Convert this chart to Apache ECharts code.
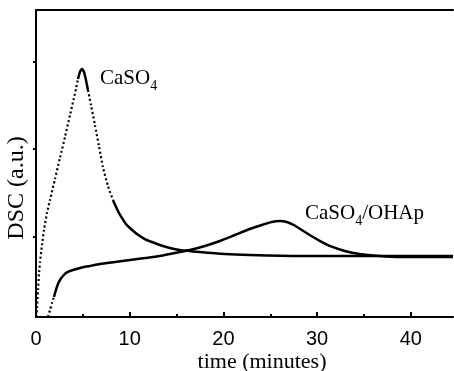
<!DOCTYPE html>
<html>
<head>
<meta charset="utf-8">
<script src="https://cdn.jsdelivr.net/npm/echarts@6/dist/echarts.min.js"></script>
<style>
  html, body { margin: 0; padding: 0; background: #fff; }
  #chart { width: 454px; height: 371px; }
</style>
</head>
<body>
<div id="chart"></div>
<script>
// 数据 (从图上读出来的)
const xMajorTicks = [0, 10, 20, 30, 40]
const xMinorTicks = [5, 15, 25, 35]
const yTicks = [0.914, 1.914, 2.914]

// CaSO4 曲线
const caso4Time = [0.05, 0.107, 0.213, 0.32, 0.426, 0.64, 0.853, 1.173, 1.493, 2.026, 2.559, 3.092, 3.625, 4.051, 4.264,
  4.478, 4.691, 4.904, 5.117, 5.33, 5.544, 5.864, 6.29, 6.716, 7.143, 7.676, 8.209, 8.742, 9.168, 9.595, 10.02,
  10.77, 11.62, 12.37, 13.22, 14.29, 15.35, 17.48, 20.15, 22.81, 28.14, 33.48, 38.81, 44.5]
const caso4Dsc = [0.0, 0.103, 0.308, 0.49, 0.627, 0.821, 0.992, 1.186, 1.334, 1.574, 1.813, 2.052, 2.303, 2.497, 2.6,
  2.714, 2.794, 2.828, 2.794, 2.702, 2.588, 2.417, 2.189, 1.95, 1.71, 1.494, 1.334, 1.209, 1.129, 1.06, 1.015,
  0.946, 0.889, 0.855, 0.821, 0.787, 0.764, 0.741, 0.718, 0.707, 0.696, 0.696, 0.696, 0.696]
// 虚线段 / 实线段 (下标区间)
const caso4Dotted = [[0, 15], [20, 26]]
const caso4Solid = [[15, 20], [26, 43]]

// CaSO4/OHAp 曲线
const ohapTime = [1.279, 1.493, 1.706, 1.919, 2.132, 2.345, 2.559, 2.878, 3.198, 3.625, 4.691, 5.757, 6.823, 8.422,
  10.02, 11.62, 13.22, 14.82, 16.42, 18.02, 19.62, 21.22, 22.81, 24.09, 25.16, 26.01, 26.76, 27.51, 28.36, 29.21,
  30.28, 31.34, 32.94, 34.54, 36.67, 38.81, 44.5]
const ohapDsc = [0.0, 0.08, 0.16, 0.228, 0.308, 0.376, 0.422, 0.467, 0.502, 0.525, 0.559, 0.582, 0.604, 0.627,
  0.65, 0.672, 0.696, 0.73, 0.764, 0.81, 0.867, 0.935, 1.003, 1.049, 1.083, 1.095, 1.083, 1.049, 0.992, 0.935,
  0.867, 0.81, 0.753, 0.718, 0.696, 0.684, 0.684]
const ohapDotted = [[0, 3]]
const ohapSolid = [[3, 36]]

const serif = 'Liberation Serif'
const sans = 'Liberation Sans'

const pick = (xs, ys, from, to) => {
  const out = []
  for (let i = from; i <= to; i++) out.push([xs[i], ys[i]])
  return out
}

const makeSeries = (xs, ys, ranges, dotted) =>
  ranges.map(([a, b]) => ({
    type: 'line',
    data: pick(xs, ys, a, b),
    smooth: 0.2,
    symbol: 'none',
    silent: true,
    lineStyle: dotted
      ? { color: '#000', width: 2.2, type: [2, 2.5] }
      : { color: '#000', width: 2.5 }
  }))

const myChart = echarts.init(document.getElementById('chart'))

const subRich = {
  n: { fontFamily: serif, fontSize: 21, lineHeight: 30, verticalAlign: 'middle', fill: '#000' },
  s: { fontFamily: serif, fontSize: 14, lineHeight: 14, verticalAlign: 'bottom', fill: '#000' }
}

const option = {
  animation: false,
  backgroundColor: '#fff',
  grid: { left: 36, right: 1, top: 10, bottom: 54 },
  xAxis: [
    {
      type: 'value',
      position: 'bottom',
      min: 0,
      max: 44.5,
      axisLine: { lineStyle: { color: '#000', width: 2 } },
      axisTick: { inside: true, length: 5, lineStyle: { color: '#000', width: 2 }, customValues: xMajorTicks },
      axisLabel: { customValues: xMajorTicks, color: '#000', fontFamily: sans, fontSize: 20, margin: 12 },
      splitLine: { show: false }
    },
    {
      type: 'value',
      position: 'bottom',
      min: 0,
      max: 44.5,
      axisLine: { show: false },
      axisTick: { inside: true, length: 3, lineStyle: { color: '#000', width: 2 }, customValues: xMinorTicks },
      axisLabel: { show: false },
      splitLine: { show: false }
    },
    {
      type: 'value',
      position: 'top',
      min: 0,
      max: 44.5,
      axisLine: { lineStyle: { color: '#000', width: 2 } },
      axisTick: { show: false },
      axisLabel: { show: false },
      splitLine: { show: false }
    }
  ],
  yAxis: {
    type: 'value',
    min: 0,
    max: 3.5,
    axisLine: { show: true, lineStyle: { color: '#000', width: 2 } },
    axisTick: { show: true, length: 3, lineStyle: { color: '#000', width: 2 }, customValues: yTicks },
    axisLabel: { show: false },
    splitLine: { show: false }
  },
  series: [
    ...makeSeries(caso4Time, caso4Dsc, caso4Dotted, true),
    ...makeSeries(caso4Time, caso4Dsc, caso4Solid, false),
    ...makeSeries(ohapTime, ohapDsc, ohapDotted, true),
    ...makeSeries(ohapTime, ohapDsc, ohapSolid, false)
  ],
  graphic: [
    {
      type: 'text',
      left: 100,
      top: 68,
      style: { text: '{n|CaSO}{s|4}', rich: subRich }
    },
    {
      type: 'text',
      left: 305,
      top: 203,
      style: { text: '{n|CaSO}{s|4}{n|/OHAp}', rich: subRich }
    },
    {
      type: 'text',
      x: 262,
      y: 362,
      style: {
        text: 'time (minutes)',
        font: '22px "Liberation Serif"',
        fill: '#000',
        align: 'center',
        verticalAlign: 'middle'
      }
    },
    {
      type: 'text',
      x: 17,
      y: 188,
      rotation: Math.PI / 2,
      style: {
        text: 'DSC (a.u.)',
        font: '24px "Liberation Serif"',
        fill: '#000',
        align: 'center',
        verticalAlign: 'middle'
      }
    }
  ]
}

myChart.setOption(option)
window.addEventListener('resize', () => {
  myChart.resize()
})
</script>
</body>
</html>
